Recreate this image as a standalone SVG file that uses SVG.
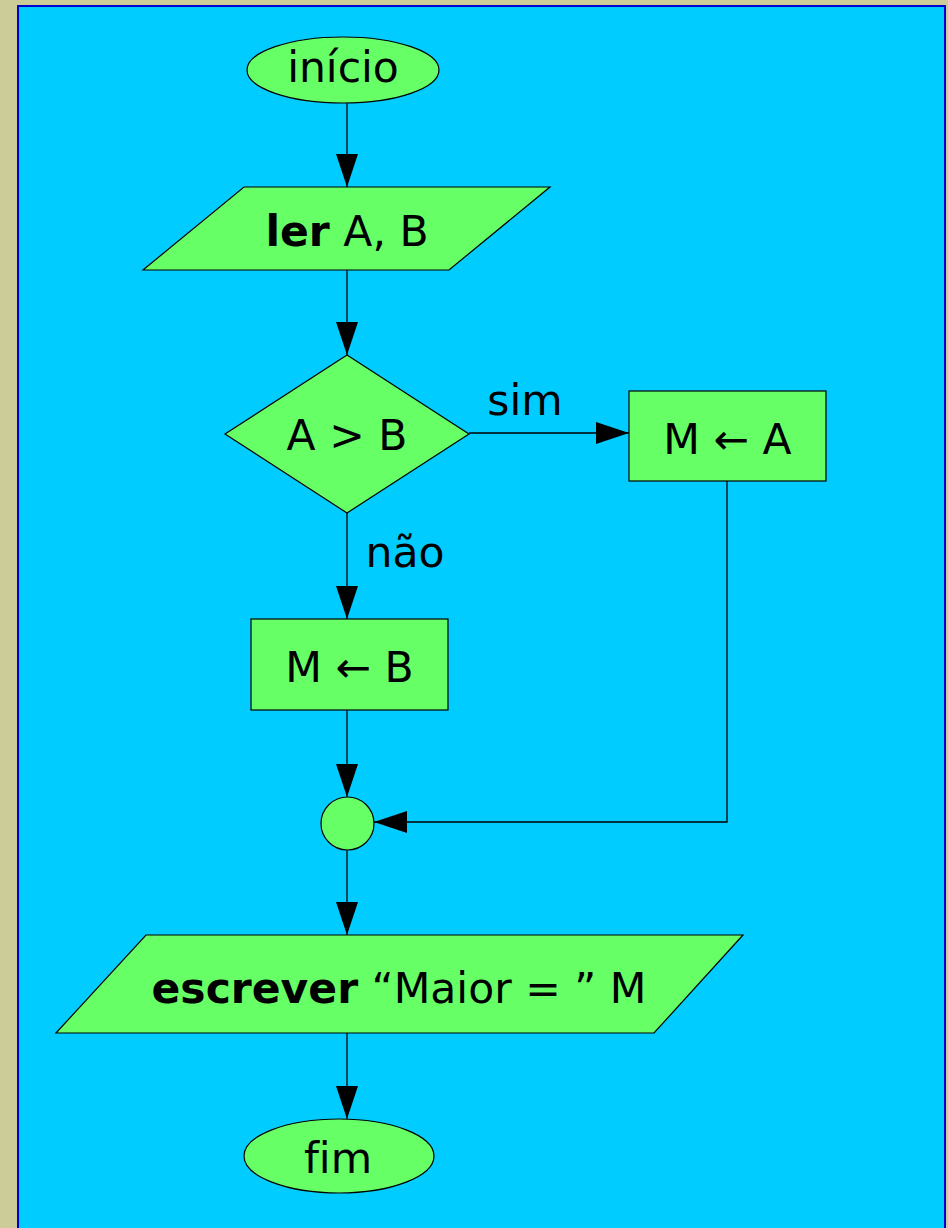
<svg xmlns="http://www.w3.org/2000/svg" width="948" height="1228" viewBox="0 0 948 1228">
<style>
.shape{fill:#66FF66;stroke:#000;stroke-width:1.2}
.t{font-family:"DejaVu Sans","Liberation Sans",sans-serif;font-size:42.5px;fill:#000;text-anchor:middle;font-variant-ligatures:none;font-feature-settings:"liga" 0}
.b{font-weight:bold}
.conn{fill:none;stroke:#000;stroke-width:1.3}
</style>
<defs>
<marker id="ah" markerUnits="userSpaceOnUse" markerWidth="34" markerHeight="24" refX="33" refY="11" orient="auto">
<path d="M0,0 L33,11 L0,22 z" fill="#000"/>
</marker>
</defs>
<rect x="0" y="0" width="948" height="1228" fill="#CCCC99"/>
<rect x="18" y="6" width="927" height="1240" fill="#00CCFF" stroke="#0000CC" stroke-width="2"/>
<g id="connectors">
<path class="conn" d="M347,103 L347,187" marker-end="url(#ah)"/>
<path class="conn" d="M347,270 L347,355" marker-end="url(#ah)"/>
<path class="conn" d="M469,433 L629,433" marker-end="url(#ah)"/>
<path class="conn" d="M347,513 L347,619" marker-end="url(#ah)"/>
<path class="conn" d="M727,481 L727,822 L374,822" marker-end="url(#ah)"/>
<path class="conn" d="M347,710 L347,797" marker-end="url(#ah)"/>
<path class="conn" d="M347,850 L347,935" marker-end="url(#ah)"/>
<path class="conn" d="M347,1033 L347,1119" marker-end="url(#ah)"/>
<text class="t" x="525" y="415">sim</text>
<text class="t" x="405" y="567">não</text>
</g>
<g id="inicio">
<ellipse class="shape" cx="343" cy="70" rx="96" ry="33"/>
<text class="t" x="343" y="82">início</text>
</g>
<g id="ler">
<polygon class="shape" points="244,187 550,187 449,270 143,270"/>
<text class="t" x="347" y="246"><tspan class="b">ler</tspan> A, B</text>
</g>
<g id="decisao">
<polygon class="shape" points="347,355 469,434 347,513 225,434"/>
<text class="t" x="347" y="450">A &gt; B</text>
</g>
<g id="mA">
<rect class="shape" x="629" y="391" width="197" height="90"/>
<text class="t" x="727.5" y="454">M ← A</text>
</g>
<g id="mB">
<rect class="shape" x="251" y="619" width="197" height="91"/>
<text class="t" x="349.5" y="682">M ← B</text>
</g>
<g id="juncao">
<circle class="shape" cx="347.5" cy="823.5" r="26.5"/>
</g>
<g id="escrever">
<polygon class="shape" points="146,935 743,935 654,1033 56,1033"/>
<text class="t" x="399" y="1003"><tspan class="b">escrever</tspan> “Maior = ” M</text>
</g>
<g id="fim">
<ellipse class="shape" cx="339" cy="1156" rx="95" ry="37"/>
<text class="t" x="338" y="1173">fim</text>
</g>
</svg>
